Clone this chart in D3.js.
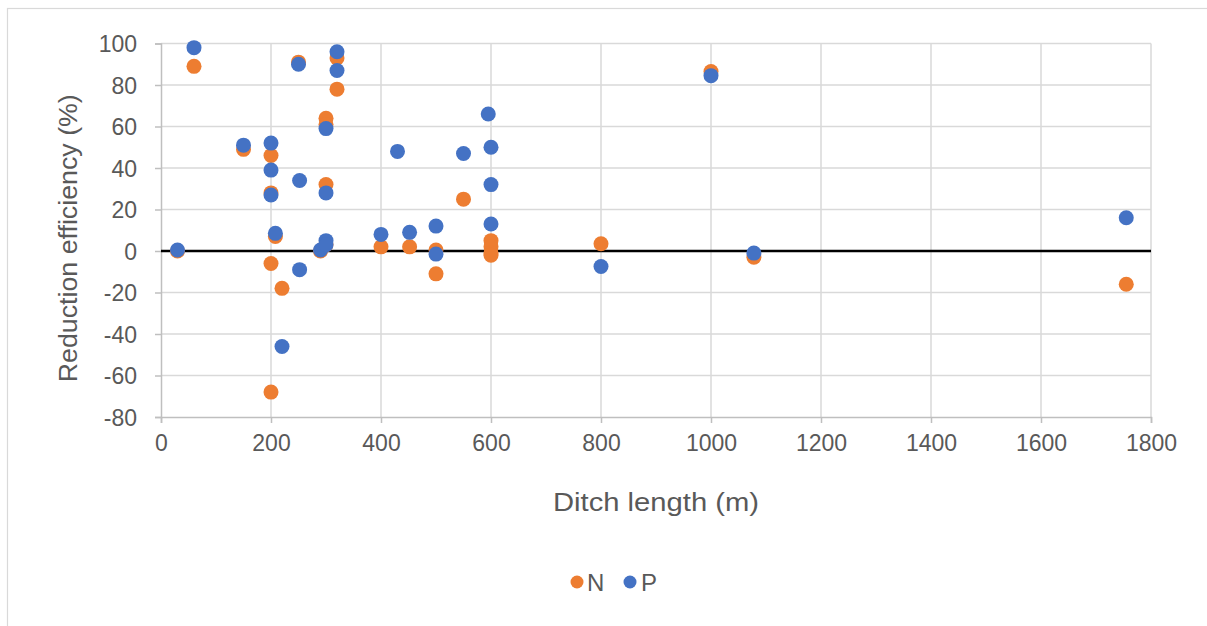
<!DOCTYPE html>
<html>
<head>
<meta charset="utf-8">
<script src="https://cdn.jsdelivr.net/npm/d3@7/dist/d3.min.js"></script>
<style>
  html, body { margin: 0; padding: 0; background: #ffffff; }
  svg { display: block; }
  text { font-family: "Liberation Sans", Arial, sans-serif; fill: #595959; }
</style>
</head>
<body>
<svg id="chart" width="1207" height="626"></svg>
<script>
// Ditch length (m) and reduction efficiency (%) for N and P
const nLength = [30, 60, 150, 200, 200, 200, 200, 208, 220, 250, 290, 300, 300, 300, 300, 320, 320, 400, 452, 500, 500, 550, 600, 600, 600, 600, 800, 1000, 1078, 1755];
const nEff    = [0, 89, 49, 46, 28, -6, -68, 7, -18, 91, 0, 64, 61, 32, 3, 93, 78, 2, 2, 0.5, -11, 25, 5, 2, -1, -2, 3.5, 86.5, -3, -16];

const pLength = [30, 60, 150, 200, 200, 200, 208, 220, 250, 252, 252, 290, 300, 300, 300, 300, 320, 320, 400, 430, 452, 500, 500, 550, 595, 600, 600, 600, 800, 1000, 1078, 1755];
const pEff    = [0.5, 98, 51, 52, 39, 27, 8.5, -46, 90, 34, -9, 0.5, 59, 28, 5, 3, 96, 87, 8, 48, 9, 12, -1.5, 47, 66, 50, 32, 13, -7.5, 84.5, -1, 16];

const xTicks = [0, 200, 400, 600, 800, 1000, 1200, 1400, 1600, 1800];
const yTicks = [-80, -60, -40, -20, 0, 20, 40, 60, 80, 100];

const seriesNames = ["N", "P"];
const seriesColors = ["#ED7D31", "#4472C4"];

(function () {
const svg = d3.select("#chart");

// outer chart border (left/top visible)
svg.append("rect").attr("x", 7.5).attr("y", 8.5).attr("width", 1230).attr("height", 640)
  .attr("fill", "#fff").attr("stroke", "#d9d9d9").attr("stroke-width", 1.2);

const pL = 161, pR = 1151, pT = 43.5, pB = 417;
const x = d3.scaleLinear().domain([0, 1800]).range([pL, pR]);
const y = d3.scaleLinear().domain([-80, 100]).range([pB, pT]);

// gridlines
const grid = svg.append("g");
grid.selectAll("line.h").data(yTicks.filter(d => d !== -80)).enter().append("line")
  .attr("x1", pL).attr("x2", pR).attr("y1", d => y(d)).attr("y2", d => y(d))
  .attr("stroke", "#d9d9d9").attr("stroke-width", 1.5);
grid.selectAll("line.v").data(xTicks.filter(d => d !== 0)).enter().append("line")
  .attr("x1", d => x(d)).attr("x2", d => x(d)).attr("y1", pT).attr("y2", pB)
  .attr("stroke", "#d9d9d9").attr("stroke-width", 1.5);

// axes
const fmt = d => String(d);
const xAxis = d3.axisBottom(x).tickValues(xTicks).tickSize(6).tickPadding(12).tickFormat(fmt);
const yAxis = d3.axisLeft(y).tickValues(yTicks).tickSize(6).tickPadding(18).tickFormat(fmt);

const gx = svg.append("g").attr("transform", `translate(0,${pB})`).call(xAxis);
const gy = svg.append("g").attr("transform", `translate(${pL},0)`).call(yAxis);
[gx, gy].forEach(g => {
  g.select(".domain").attr("stroke", "#bfbfbf").attr("stroke-width", 1.5);
  g.selectAll(".tick line").attr("stroke", "#bfbfbf").attr("stroke-width", 1.5);
  g.selectAll(".tick text").attr("fill", "#595959").style("font-size", "23px")
    .style("font-family", "'Liberation Sans', Arial, sans-serif");
});
gx.selectAll(".tick text").attr("dy", "0.71em");
gy.selectAll(".tick text").attr("dy", "0.36em");

// zero line
svg.append("line").attr("x1", pL).attr("x2", pR).attr("y1", y(0)).attr("y2", y(0))
  .attr("stroke", "#000").attr("stroke-width", 2.5);

// points
const nData = nLength.map((d, i) => ({ x: d, y: nEff[i] }));
const pData = pLength.map((d, i) => ({ x: d, y: pEff[i] }));
[nData, pData].forEach((data, si) => {
  svg.append("g").selectAll("circle").data(data).enter().append("circle")
    .attr("cx", d => x(d.x)).attr("cy", d => y(d.y)).attr("r", 7.5)
    .attr("fill", seriesColors[si]);
});

// axis titles
svg.append("text").attr("x", (pL + pR) / 2).attr("y", 511)
  .attr("text-anchor", "middle").style("font-size", "26px")
  .attr("textLength", 206).attr("lengthAdjust", "spacingAndGlyphs")
  .text("Ditch length (m)");
svg.append("text").attr("transform", `translate(68,${(pT + pB) / 2 + 8}) rotate(-90)`)
  .attr("text-anchor", "middle").attr("dominant-baseline", "central")
  .style("font-size", "26px")
  .attr("textLength", 288).attr("lengthAdjust", "spacingAndGlyphs")
  .text("Reduction efficiency (%)");

// legend
const legend = svg.append("g");
const legItems = [{ cx: 577, tx: 587 }, { cx: 630, tx: 641 }];
seriesNames.forEach((name, i) => {
  legend.append("circle").attr("cx", legItems[i].cx).attr("cy", 582).attr("r", 6.5).attr("fill", seriesColors[i]);
  legend.append("text").attr("x", legItems[i].tx).attr("y", 591).style("font-size", "24px").text(name);
});
})();
</script>
</body>
</html>
